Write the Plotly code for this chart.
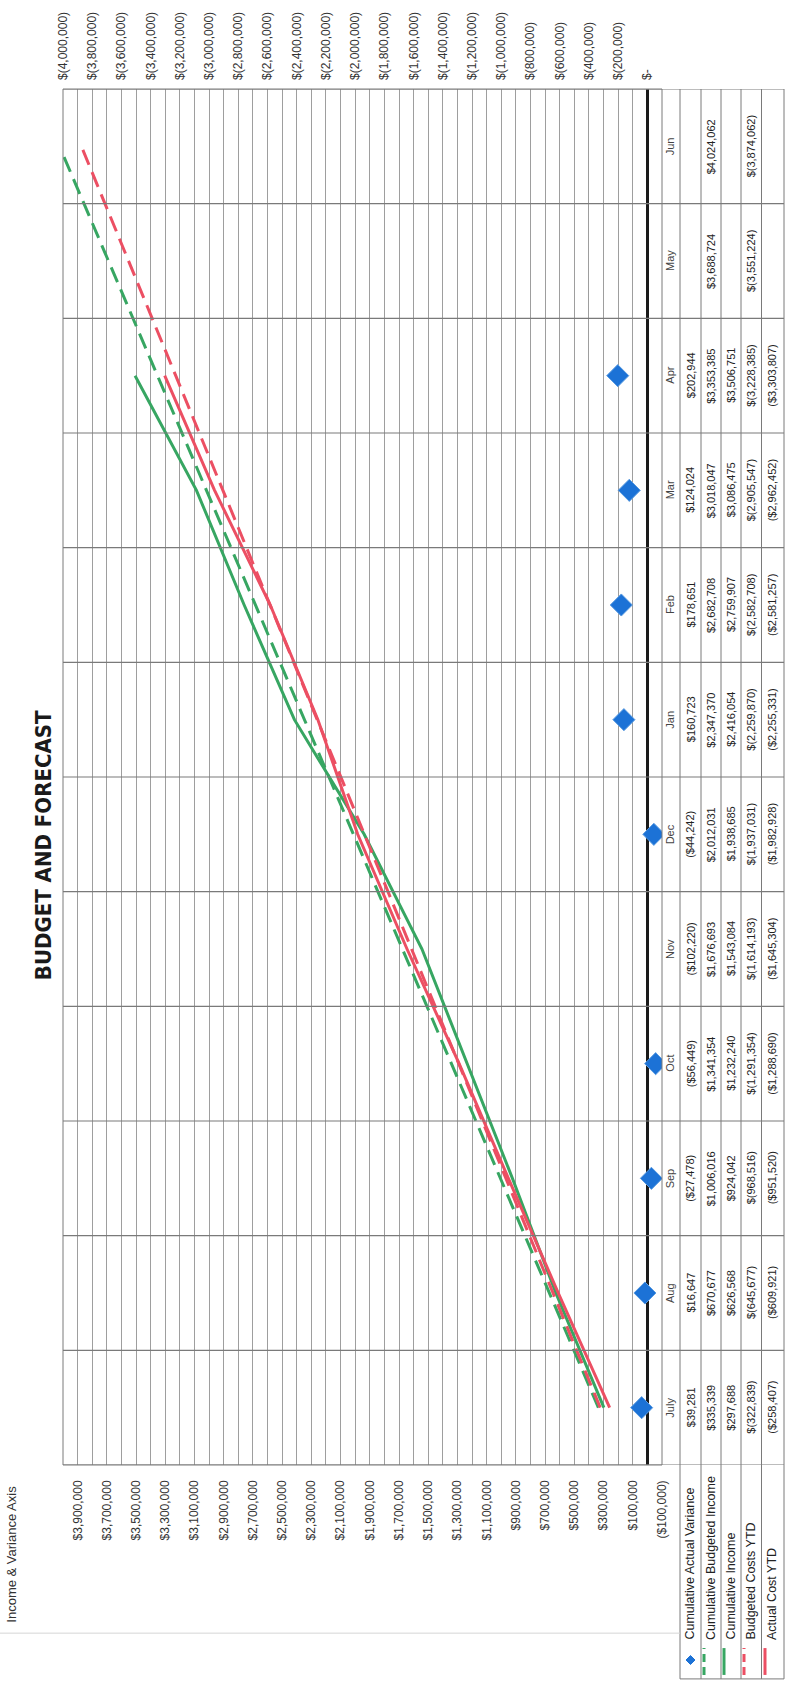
import plotly.graph_objects as go

# ---------------- data ----------------
months = ["July", "Aug", "Sep", "Oct", "Nov", "Dec", "Jan", "Feb", "Mar", "Apr", "May", "Jun"]
variance = [39281, 16647, -27478, -56449, -102220, -44242, 160723, 178651, 124024, 202944, None, None]
budget_income = [335339, 670677, 1006016, 1341354, 1676693, 2012031, 2347370, 2682708,
                 3018047, 3353385, 3688724, 4024062]
cum_income = [297688, 626568, 924042, 1232240, 1543084, 1938685, 2416054, 2759907,
              3086475, 3506751, None, None]
budget_costs = [-322839, -645677, -968516, -1291354, -1614193, -1937031, -2259870, -2582708,
                -2905547, -3228385, -3551224, -3874062]
actual_costs = [-258407, -609921, -951520, -1288690, -1645304, -1982928, -2255331, -2581257,
                -2962452, -3303807, None, None]
series_names = ["Cumulative Actual Variance", "Cumulative Budgeted Income", "Cumulative Income",
                "Budgeted Costs YTD", "Actual Cost YTD"]

X1_MIN, X1_MAX = -100000, 4000000      # primary (income & variance) axis
X2_MIN, X2_MAX = -4000000, 100000      # secondary (costs) axis
primary_ticks = list(range(-100000, 4000000, 200000))
secondary_ticks = list(range(-4000000, 1, 200000))


def fmt_primary(v):
    return "(${:,})".format(-v) if v < 0 else "${:,}".format(v)


def fmt_secondary(v):
    return "$-" if v == 0 else "$({:,})".format(-v)


def fmt_var(v):
    if v is None:
        return ""
    return "(${:,})".format(-v) if v < 0 else "${:,}".format(v)


def fmt_plain(v):
    return "" if v is None else "${:,}".format(v)


def fmt_bcost(v):
    return "" if v is None else "$({:,})".format(-v)


def fmt_acost(v):
    return "" if v is None else "(${:,})".format(-v)


# ---------------- layout geometry (page pixels) ----------------
W, H = 787, 1684
PL, PR, PT, PB = 63, 662, 82, 1465
GREEN = "#37A662"
RED = "#EC4F63"
BLUE = "#1C72D6"
GRID = "#9e9e9e"
LINEC = "#7a7a7a"
FONT = "Liberation Sans, Arial, sans-serif"


def px(x):
    return (x - PL) / (PR - PL)


def py(y):
    return (PB - y) / (PB - PT)


idx = list(range(len(months)))

fig = go.Figure()

var_visible = [v if (v is not None and X1_MIN <= v <= X1_MAX) else None for v in variance]
fig.add_trace(go.Scatter(x=var_visible, y=idx, mode="markers", xaxis="x", yaxis="y",
                         marker=dict(symbol="diamond", size=17, color=BLUE,
                                     line=dict(color="#5a9be0", width=1)),
                         name=series_names[0]))
fig.add_trace(go.Scatter(x=budget_income, y=idx, mode="lines", xaxis="x", yaxis="y",
                         line=dict(color=GREEN, width=3, dash="16px,8px"), name=series_names[1]))
fig.add_trace(go.Scatter(x=cum_income, y=idx, mode="lines", xaxis="x", yaxis="y",
                         line=dict(color=GREEN, width=3), name=series_names[2]))
fig.add_trace(go.Scatter(x=budget_costs, y=idx, mode="lines", xaxis="x2", yaxis="y",
                         line=dict(color=RED, width=3, dash="16px,8px"), name=series_names[3]))
fig.add_trace(go.Scatter(x=actual_costs, y=idx, mode="lines", xaxis="x2", yaxis="y",
                         line=dict(color=RED, width=3), name=series_names[4]))

shapes = []
annotations = []

# plot area border
shapes.append(dict(type="rect", xref="paper", yref="paper", x0=0, x1=1, y0=0, y1=1,
                   line=dict(color=LINEC, width=1), layer="above"))

# category boundaries, extended through the data table
for k in range(len(months) + 1):
    shapes.append(dict(type="line", xref="paper", yref="y", x0=0, x1=px(784),
                       y0=k - 0.5, y1=k - 0.5, line=dict(color=LINEC, width=1.2), layer="above"))

# table row separators (vertical on the page)
row_edges = [680, 701, 721, 741, 761.5, 784]
for e in row_edges:
    shapes.append(dict(type="line", xref="paper", yref="paper", x0=px(e), x1=px(e),
                       y0=py(PT), y1=py(1680), line=dict(color=LINEC, width=1)))
# table bottom edge (legend area)
shapes.append(dict(type="line", xref="paper", yref="paper", x0=px(680), x1=px(784),
                   y0=py(1680), y1=py(1680), line=dict(color=LINEC, width=1)))
# faint chart-area edge
shapes.append(dict(type="line", xref="paper", yref="paper", x0=px(0), x1=px(680),
                   y0=py(1634), y1=py(1634), line=dict(color="#d6d6d6", width=1)))

row_centers = [690.5, 711, 731, 751, 772]
header_x = 670

# month header labels
for i, m in enumerate(months):
    annotations.append(dict(x=px(header_x), y=i, xref="paper", yref="y", text=m,
                            showarrow=False, textangle=-90, xanchor="center", yanchor="middle",
                            font=dict(family=FONT, size=11, color="#444")))

rows = [(variance, fmt_var), (budget_income, fmt_plain), (cum_income, fmt_plain),
        (budget_costs, fmt_bcost), (actual_costs, fmt_acost)]
for (vals, f), cx in zip(rows, row_centers):
    for i, v in enumerate(vals):
        t = f(v)
        if not t:
            continue
        annotations.append(dict(x=px(cx), y=i, xref="paper", yref="y", text=t,
                                showarrow=False, textangle=-90, xanchor="center",
                                yanchor="middle",
                                font=dict(family=FONT, size=11, color="#222")))

# legend (rotated, inside the data table)
for name, cx in zip(series_names, row_centers):
    annotations.append(dict(x=px(cx), y=py(1643), xref="paper", yref="paper", text=name,
                            showarrow=False, textangle=-90, xanchor="center", yanchor="bottom",
                            font=dict(family=FONT, size=12.5, color="#222")))
key_y0, key_y1 = 1649, 1676
d = 4.5
cx = row_centers[0]
shapes.append(dict(type="path", xref="paper", yref="paper",
                   path="M {} {} L {} {} L {} {} L {} {} Z".format(
                       px(cx - d), py(1661), px(cx), py(1661 - d),
                       px(cx + d), py(1661), px(cx), py(1661 + d)),
                   fillcolor=BLUE, line=dict(color=BLUE, width=1)))
for cx, col, dash in [(row_centers[1], GREEN, "8px,5px"), (row_centers[2], GREEN, "solid"),
                      (row_centers[3], RED, "8px,5px"), (row_centers[4], RED, "solid")]:
    shapes.append(dict(type="line", xref="paper", yref="paper", x0=px(cx - 7), x1=px(cx - 7),
                       y0=py(key_y1), y1=py(key_y0), line=dict(color=col, width=3, dash=dash)))

# title and axis title
annotations.append(dict(x=px(43), y=py(842), xref="paper", yref="paper",
                        text="<b>BUDGET AND FORECAST</b>", showarrow=False, textangle=-90,
                        xanchor="center", yanchor="middle",
                        font=dict(family="Liberation Sans Narrow, DejaVu Sans Condensed, Arial Narrow, sans-serif",
                                  size=22, color="#1a1a1a")))
annotations.append(dict(x=px(12), y=py(1625), xref="paper", yref="paper",
                        text="Income & Variance Axis", showarrow=False, textangle=-90,
                        xanchor="center", yanchor="bottom",
                        font=dict(family=FONT, size=13, color="#333")))

fig.update_layout(
    width=W, height=H,
    margin=dict(l=PL, r=W - PR, t=PT, b=H - PB, pad=0),
    paper_bgcolor="white", plot_bgcolor="white",
    showlegend=False,
    font=dict(family=FONT, size=12, color="#333"),
    xaxis=dict(range=[X1_MAX, X1_MIN], tickmode="array", tickvals=primary_ticks,
               ticktext=[fmt_primary(v) for v in primary_ticks], tickangle=-90,
               side="bottom", showgrid=True, gridcolor=GRID, gridwidth=1,
               zeroline=True, zerolinecolor="#1a1a1a", zerolinewidth=3,
               showline=False, ticks="", ticklabelstandoff=12,
               tickfont=dict(family=FONT, size=12, color="#333")),
    xaxis2=dict(range=[X2_MIN, X2_MAX], overlaying="x", side="top", tickmode="array",
                tickvals=secondary_ticks, ticktext=[fmt_secondary(v) for v in secondary_ticks],
                tickangle=-90, showgrid=True, gridcolor=GRID, gridwidth=1, zeroline=False,
                showline=False, ticks="", ticklabelstandoff=8,
                tickfont=dict(family=FONT, size=12, color="#333")),
    yaxis=dict(range=[-0.5, len(months) - 0.5], showticklabels=False, showgrid=False,
               zeroline=False, ticks="", fixedrange=True),
    shapes=shapes,
    annotations=annotations,
)

fig.write_html(
    "out.html",
    config={"displayModeBar": False, "staticPlot": True},
    post_script=("document.body.style.margin='0';"
                 "document.body.style.overflow='hidden';"
                 "document.documentElement.style.overflow='hidden';"),
)
